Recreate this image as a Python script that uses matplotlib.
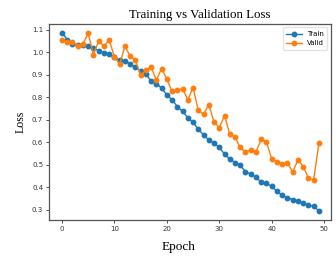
import numpy as np
import matplotlib
matplotlib.use("Agg")
import matplotlib.pyplot as plt

# ── data ──
epochs = np.arange(50)
train_loss = [1.086, 1.056, 1.038, 1.031, 1.030, 1.026, 1.020, 1.005, 0.996, 0.993,
              0.976, 0.965, 0.961, 0.946, 0.933, 0.916, 0.904, 0.870, 0.860, 0.840,
              0.809, 0.788, 0.758, 0.736, 0.708, 0.687, 0.657, 0.632, 0.609, 0.594,
              0.576, 0.547, 0.525, 0.509, 0.496, 0.469, 0.457, 0.444, 0.421, 0.416,
              0.403, 0.381, 0.363, 0.353, 0.344, 0.337, 0.328, 0.318, 0.315, 0.294]
valid_loss = [1.053, 1.044, 1.047, 1.026, 1.038, 1.083, 0.989, 1.049, 1.026, 1.055,
              0.979, 0.946, 1.026, 0.983, 0.964, 0.898, 0.919, 0.934, 0.875, 0.927,
              0.879, 0.825, 0.830, 0.837, 0.788, 0.842, 0.741, 0.723, 0.766, 0.689,
              0.664, 0.718, 0.635, 0.621, 0.576, 0.554, 0.565, 0.557, 0.612, 0.601,
              0.524, 0.513, 0.501, 0.509, 0.466, 0.521, 0.491, 0.440, 0.432, 0.594]

SERIF = ["Liberation Serif", "DejaVu Serif"]

fig = plt.figure(figsize=(3.36, 2.58), dpi=100)
ax = fig.add_axes([0.147, 0.147, 0.838, 0.760])

ax.plot(epochs, train_loss, marker="o", markersize=3.2, linewidth=1.0,
        color="#1f77b4", label="Train")
ax.plot(epochs, valid_loss, marker="o", markersize=3.2, linewidth=1.0,
        color="#ff7f0e", label="Valid")

ax.set_xlim(-2.4, 51.3)
ax.set_ylim(0.253, 1.125)
ax.set_xticks(range(0, 51, 10))
ax.set_yticks([0.3, 0.4, 0.5, 0.6, 0.7, 0.8, 0.9, 1.0, 1.1])
ax.tick_params(labelsize=5, length=2.5, width=0.6, pad=2, colors="#333333")
for spine in ax.spines.values():
    spine.set_edgecolor("#555555")
    spine.set_linewidth(0.9)

# title and x label sit a little off the axes centre in the original
ax.set_title("Training vs Validation Loss", fontsize=9.3, family=SERIF, pad=4, x=0.535)
ax.set_xlabel("Epoch", fontsize=9.5, family=SERIF, labelpad=5)
ax.xaxis.set_label_coords(0.457, -0.105)
ax.set_ylabel("Loss", fontsize=8.5, family=SERIF, labelpad=4)

ax.legend(loc="upper right", fontsize=5, handlelength=2.2, borderpad=0.5,
          labelspacing=0.5, frameon=True, edgecolor="#dddddd")

fig.savefig("out.png", dpi=100)
